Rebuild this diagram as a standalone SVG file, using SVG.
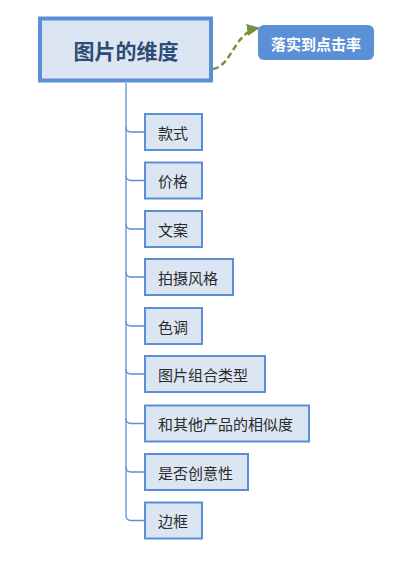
<svg xmlns="http://www.w3.org/2000/svg" width="417" height="566" viewBox="0 0 417 566">
<defs>
<style>
.child rect{fill:#dce6f2;stroke:#5b8fd4;stroke-width:2}
.child text{font-family:"Microsoft YaHei","Noto Sans CJK SC",sans-serif;font-size:15px;fill:#2b2b2b;dominant-baseline:central}
.conn{fill:none;stroke:#5b8fd4;stroke-width:1.3}
</style>
<marker id="arr" markerWidth="13" markerHeight="12" refX="12" refY="6" orient="auto" markerUnits="userSpaceOnUse" viewBox="0 0 13 12">
<path d="M0,0 L13,6 L0,12 z" fill="#77923c"/>
</marker>
</defs>
<rect width="417" height="566" fill="#ffffff"/>
<g id="connectors">
<path class="conn" d="M126,83 V515 Q126,520.5 131,520.5 H145"/>
<path class="conn" d="M126,127 Q126,132 131,132 H145"/>
<path class="conn" d="M126,175.5 Q126,180.5 131,180.5 H145"/>
<path class="conn" d="M126,224 Q126,229 131,229 H145"/>
<path class="conn" d="M126,272 Q126,277 131,277 H145"/>
<path class="conn" d="M126,321 Q126,326 131,326 H145"/>
<path class="conn" d="M126,369 Q126,374 131,374 H145"/>
<path class="conn" d="M126,418.5 Q126,423.5 131,423.5 H145"/>
<path class="conn" d="M126,467 Q126,472 131,472 H145"/>
<path d="M213,69 C232,66 234,32 259,28" fill="none" stroke="#77923c" stroke-width="2.5" stroke-dasharray="6,3.5" marker-end="url(#arr)"/>
</g>
<g id="main">
<rect x="40" y="18.5" width="171" height="62" fill="#dce6f2" stroke="#5b8fd4" stroke-width="4"/>
<text x="126" y="50" text-anchor="middle" dominant-baseline="central" font-family="Microsoft YaHei,'Noto Sans CJK SC',sans-serif" font-size="21" font-weight="bold" fill="#2e4c75">图片的维度</text>
</g>
<g id="target">
<rect x="258" y="25" width="116" height="35" rx="6" fill="#5b8fd6"/>
<text x="316" y="43" text-anchor="middle" dominant-baseline="central" font-family="Microsoft YaHei,'Noto Sans CJK SC',sans-serif" font-size="15" font-weight="bold" fill="#ffffff">落实到点击率</text>
</g>
<g id="n1" class="child"><rect x="145" y="114" width="57" height="36"/><text x="158" y="132">款式</text></g>
<g id="n2" class="child"><rect x="145" y="162.5" width="57" height="36"/><text x="158" y="180.5">价格</text></g>
<g id="n3" class="child"><rect x="145" y="211" width="57" height="36"/><text x="158" y="229">文案</text></g>
<g id="n4" class="child"><rect x="145" y="259" width="88" height="36"/><text x="158" y="277">拍摄风格</text></g>
<g id="n5" class="child"><rect x="145" y="308" width="57" height="36"/><text x="158" y="326">色调</text></g>
<g id="n6" class="child"><rect x="145" y="356" width="120" height="36"/><text x="158" y="374">图片组合类型</text></g>
<g id="n7" class="child"><rect x="145" y="405.5" width="164" height="36"/><text x="158" y="423.5">和其他产品的相似度</text></g>
<g id="n8" class="child"><rect x="145" y="454" width="103" height="36"/><text x="158" y="472">是否创意性</text></g>
<g id="n9" class="child"><rect x="145" y="502.5" width="57" height="36"/><text x="158" y="520.5">边框</text></g>
</svg>
